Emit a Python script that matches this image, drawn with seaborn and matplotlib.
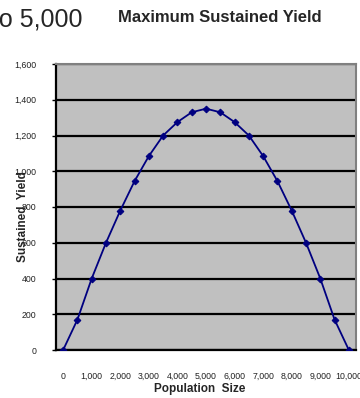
import matplotlib
matplotlib.use("Agg")
import matplotlib.pyplot as plt
import seaborn as sns
import pandas as pd
import numpy as np

population = [0, 500, 1000, 1500, 2000, 2500, 3000, 3500, 4000, 4500, 5000,
              5500, 6000, 6500, 7000, 7500, 8000, 8500, 9000, 9500, 10000]
sustained_yield = [0, 170, 400, 600, 780, 945, 1085, 1200, 1275, 1330, 1350,
                   1330, 1275, 1200, 1085, 945, 780, 600, 400, 170, 0]
x_ticks = [0, 1000, 2000, 3000, 4000, 5000, 6000, 7000, 8000, 9000, 10000]
x_tick_labels = ["0", "1,000", "2,000", "3,000", "4,000", "5,000", "6,000",
                 "7,000", "8,000", "9,000", "10,000"]
y_ticks = [0, 200, 400, 600, 800, 1000, 1200, 1400, 1600]
y_tick_labels = ["0", "200", "400", "600", "800", "1,000", "1,200", "1,400", "1,600"]

sns.set_style("white")
plt.rcParams['font.family'] = ['Liberation Sans', 'DejaVu Sans']

df = pd.DataFrame({"Population": population, "Yield": sustained_yield})

fig = plt.figure(figsize=(3.6, 3.98), dpi=100)
ax = fig.add_axes([56/360, 1-350/398, 300/360, 286/398])
ax.set_facecolor("#C0C0C0")

sns.lineplot(data=df, x="Population", y="Yield", ax=ax, color="#000080",
             linewidth=1.3, marker="D", markersize=3.4, markeredgecolor="#000080",
             zorder=5)

ax.set_xlim(-250, 10250)
ax.set_ylim(0, 1600)
ax.set_xticks(x_ticks)
ax.set_xticklabels(x_tick_labels, fontsize=6.3, color="#222222")
ax.set_xticks([-250 + 500*k for k in range(22)], minor=True)
ax.tick_params(axis="x", which="major", length=0, pad=16)
ax.tick_params(axis="x", which="minor", length=3, width=1, color="black", direction="out")
ax.set_yticks(y_ticks)
ax.set_yticklabels(y_tick_labels, fontsize=6.3, color="#222222")
ax.tick_params(axis="y", which="major", length=3, width=1, color="black",
               direction="out", pad=11, left=True)

ax.grid(axis="y", color="black", linewidth=1.6)
ax.grid(axis="x", visible=False)
ax.set_axisbelow(True)

for s in ["top", "right"]:
    ax.spines[s].set_color("#808080")
    ax.spines[s].set_linewidth(1.5)
for s in ["left", "bottom"]:
    ax.spines[s].set_color("black")
    ax.spines[s].set_linewidth(1.6)

ax.set_xlabel("Population  Size", fontsize=8.5, fontweight="bold")
ax.set_ylabel("Sustained  Yield", fontsize=8.5, fontweight="bold")
ax.xaxis.set_label_coords(0.48, -0.117)
ax.yaxis.set_label_coords(-0.09, 0.468)

fig.text(220/360, 1-17/398, "Maximum Sustained Yield", fontsize=12, fontweight="bold",
         ha="center", va="center")
fig.text(83/360, 1-27/398, "to 5,000", fontsize=18, ha="right", va="baseline")

fig.savefig("out.png", dpi=100)
